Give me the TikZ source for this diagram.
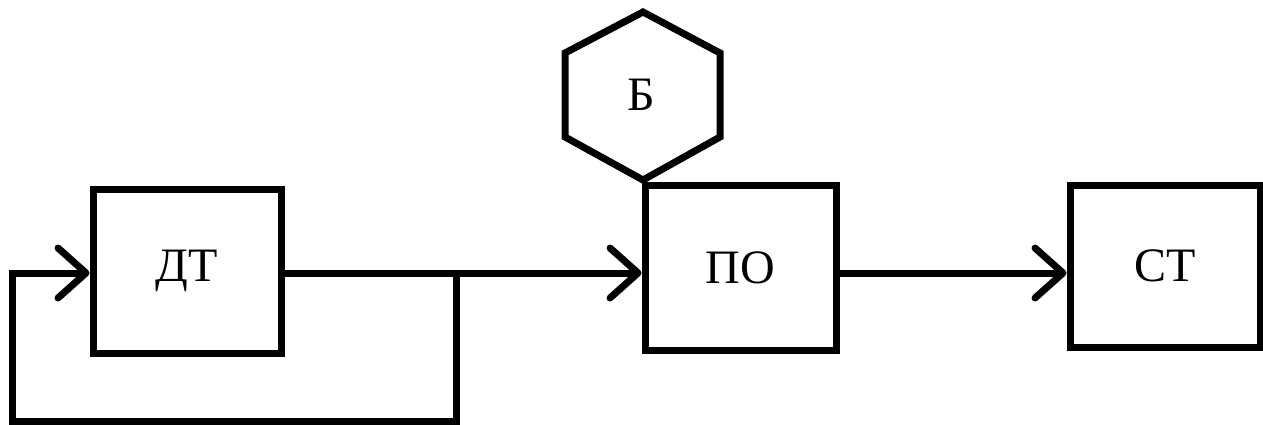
\documentclass[tikz,border=0pt]{standalone}
\usepackage{fontspec}
\setmainfont{Liberation Serif}
\usetikzlibrary{arrows.meta}
\begin{document}
\begin{tikzpicture}[x=1pt,y=-1pt,
  txt/.style={font=\fontsize{48}{52}\selectfont},
  blk/.style={draw,line width=7pt,inner sep=0pt,txt},
  conn/.style={line width=7pt},
  arr/.style={conn,-{Straight Barb[length=28pt,width=50pt,line width=7pt,round]}}]
\useasboundingbox (0,0) rectangle (1263,425);
\node[blk,minimum width=188pt,minimum height=164pt] (DT) at (187,271) {ДТ};
\node[blk,minimum width=191pt,minimum height=165pt] (PO) at (740.5,267.5) {ПО};
\node[blk,minimum width=190pt,minimum height=162pt] (CT) at (1165,266) {СТ};
\draw[conn,line join=miter] (643,12) -- (720,53) -- (720,137) -- (643,180) -- (565,137) -- (565,53) -- cycle;
\node[txt,inner sep=0pt] (B) at (641,95) {Б};
\coordinate (br) at (456,273);
\coordinate (fb) at (12,421);
\draw[arr] (DT.east |- br) -- (PO.west |- br);
\draw[arr,line join=miter] (br) -- (br |- fb) -- (fb) -- (fb |- br) -- (DT.west |- br);
\draw[arr] (PO.east |- br) -- (CT.west |- br);
\end{tikzpicture}
\end{document}
